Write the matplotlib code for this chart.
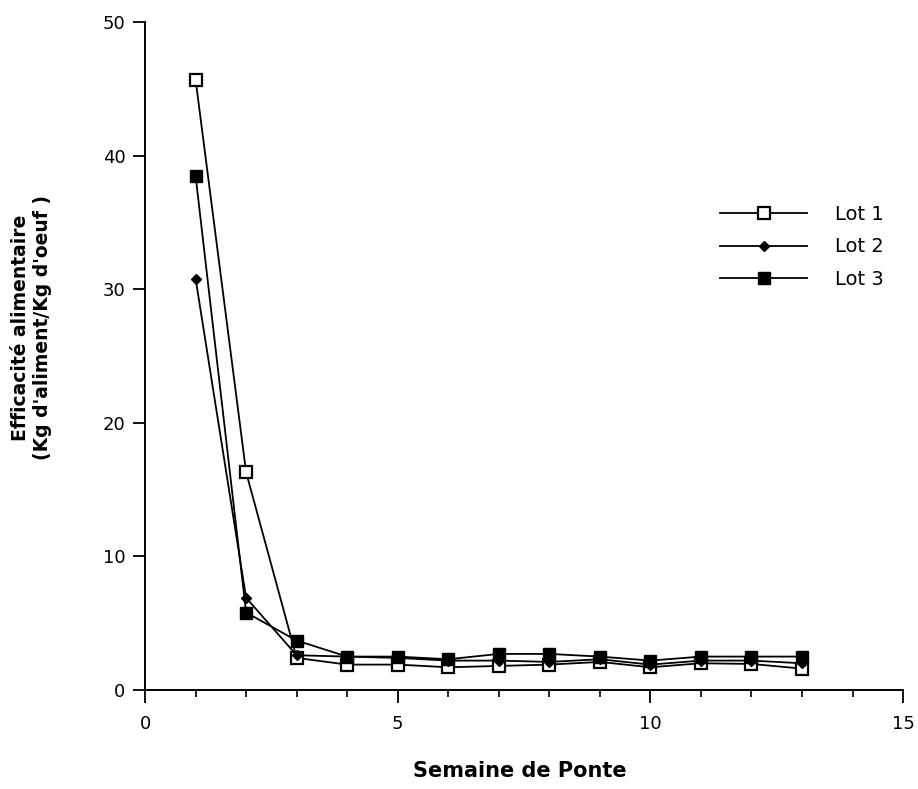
"""
Efficacite alimentaire par semaine de ponte, trois lots.
"""
import numpy as np
import matplotlib
matplotlib.use("Agg")
import matplotlib.pyplot as plt
from matplotlib.ticker import MultipleLocator

semaines = np.arange(1, 14)
lot1 = [45.7, 16.3, 2.4, 1.9, 1.9, 1.7, 1.8, 1.9, 2.1, 1.7, 2.0, 1.95, 1.6]
lot2 = [30.8, 6.9, 2.6, 2.5, 2.4, 2.2, 2.2, 2.1, 2.3, 1.9, 2.2, 2.2, 2.0]
lot3 = [38.5, 5.8, 3.7, 2.5, 2.5, 2.3, 2.7, 2.7, 2.5, 2.2, 2.5, 2.5, 2.5]
labels = ["Lot 1", "Lot 2", "Lot 3"]

fig = plt.figure(figsize=(9.18, 7.89), dpi=100)
ax = fig.add_axes([0.158, 0.1255, 0.8257, 0.8465])

ax.plot(semaines, lot1, "k-", lw=1.3, marker="s", ms=9, mfc="white",
        mec="black", mew=1.6, label=labels[0])
ax.plot(semaines, lot2, "k-", lw=1.3, marker="D", ms=5.5, mfc="black",
        mec="black", label=labels[1])
ax.plot(semaines, lot3, "k-", lw=1.3, marker="s", ms=8.5, mfc="black",
        mec="black", label=labels[2])

ax.set_xlim(0, 15)
ax.set_ylim(0, 50)
ax.xaxis.set_major_locator(MultipleLocator(5))
ax.xaxis.set_minor_locator(MultipleLocator(1))
ax.yaxis.set_major_locator(MultipleLocator(10))
ax.tick_params(axis="both", which="major", direction="out", length=9,
               width=1.3, labelsize=13, pad=5)
ax.tick_params(axis="x", which="major", pad=9)
ax.tick_params(axis="x", which="minor", direction="out", length=5, width=1.2)
for side in ["top", "right"]:
    ax.spines[side].set_visible(False)
for side in ["left", "bottom"]:
    ax.spines[side].set_linewidth(1.4)

ax.set_xlabel("Semaine de Ponte", fontsize=15, fontweight="bold")
ax.xaxis.set_label_coords(0.495, -0.1065)
ax.set_ylabel("Efficacité alimentaire\n(Kg d'aliment/Kg d'oeuf )", fontsize=13.5,
              fontweight="bold")
ax.yaxis.set_label_coords(-0.123, 0.542)

ax.legend(loc="upper left", bbox_to_anchor=(0.748, 0.738), frameon=False,
          fontsize=14, handlelength=4.5, handletextpad=1.45, labelspacing=0.7,
          borderaxespad=0)

fig.savefig("out.png", dpi=100)
